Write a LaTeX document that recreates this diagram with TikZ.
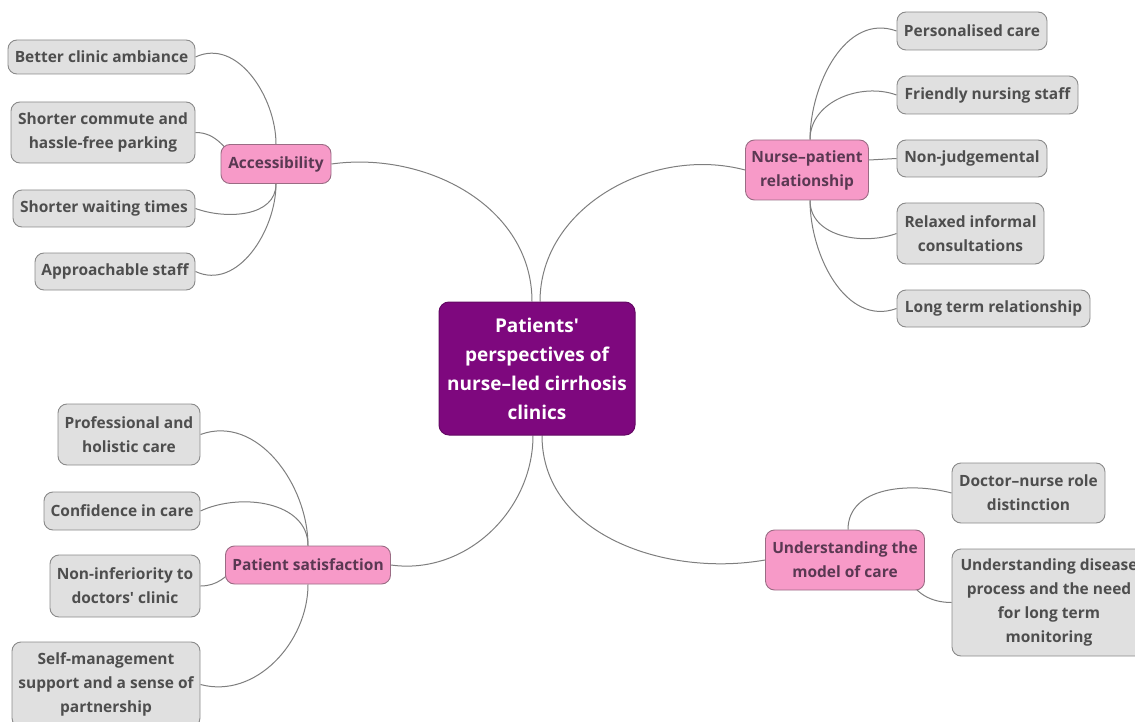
\documentclass[tikz,border=0pt]{standalone}
\usepackage{fontspec}
\setmainfont{Open Sans}
\usetikzlibrary{positioning, backgrounds}

\definecolor{rootfill}{HTML}{7E087E}
\definecolor{rootdraw}{HTML}{640864}
\definecolor{topicfill}{HTML}{F79AC8}
\definecolor{topicdraw}{HTML}{9A6C84}
\definecolor{topictext}{HTML}{5A3852}
\definecolor{leaffill}{HTML}{E0E0E0}
\definecolor{leafdraw}{HTML}{8A8A8A}
\definecolor{leaftext}{HTML}{4E4E4E}
\definecolor{linkgray}{HTML}{7E7E7E}

\begin{document}
\begin{tikzpicture}[
        x=1pt, y=1pt,
        root/.style={rectangle, rounded corners=10pt, draw=rootdraw, fill=rootfill, line width=1pt, text=white, font=\fontsize{19}{29}\selectfont\bfseries, align=center, inner sep=4pt},
        topic/.style={rectangle, rounded corners=9pt, draw=topicdraw, fill=topicfill, line width=0.9pt, text=topictext, font=\fontsize{15.5}{24}\selectfont\bfseries, align=center, inner sep=3pt},
        leaf/.style={rectangle, rounded corners=9pt, draw=leafdraw, fill=leaffill, line width=0.9pt, text=leaftext, font=\fontsize{15.5}{24}\selectfont\bfseries, align=center, inner sep=3pt},
        size/.style 2 args={minimum width=#1, minimum height=#2},
        link/.style={draw=linkgray, line width=1pt}
    ]
        \clip (0,0) rectangle (1135,-722);
        \useasboundingbox (0,0) rectangle (1135,-722);

        % --- CENTRE ---
        \node[root, size={196pt}{133pt}] (centre) at (537,-368.5) {Patients\textquotesingle\\perspectives of\\nurse–led cirrhosis\\clinics};

        % --- MAIN THEMES ---
        \node[topic, size={110pt}{39pt}] (access) at (276,-164) {Accessibility};
        \node[topic, size={123pt}{60pt}] (relation) at (807,-170) {Nurse–patient\\relationship};
        \node[topic, size={165pt}{38pt}] (satisf) at (308,-565) {Patient satisfaction};
        \node[topic, size={159pt}{60pt}] (model) at (845,-560) {Understanding the\\model of care};

        % --- ACCESSIBILITY ---
        \node[leaf, size={187pt}{34pt}] (ambiance) at (101.5,-57) {Better clinic ambiance};
        \node[leaf, size={184pt}{61pt}] (commute) at (103,-132.5) {Shorter commute and\\hassle-free parking};
        \node[leaf, size={182pt}{37pt}] (waiting) at (104,-208.5) {Shorter waiting times};
        \node[leaf, size={160pt}{37pt}] (approach) at (115,-271.5) {Approachable staff};

        % --- NURSE-PATIENT RELATIONSHIP ---
        \node[leaf, size={150pt}{38pt}] (personal) at (972,-31) {Personalised care};
        \node[leaf, size={181pt}{38pt}] (friendly) at (987.5,-95) {Friendly nursing staff};
        \node[leaf, size={150pt}{37pt}] (nonjudge) at (972,-158.5) {Non-judgemental};
        \node[leaf, size={147pt}{61pt}] (relaxed) at (970.5,-233.5) {Relaxed informal\\consultations};
        \node[leaf, size={193pt}{37pt}] (longterm) at (993.5,-308.5) {Long term relationship};

        % --- PATIENT SATISFACTION ---
        \node[leaf, size={142pt}{61pt}] (holistic) at (129,-434.5) {Professional and\\holistic care};
        \node[leaf, size={156pt}{38pt}] (confid) at (122,-511) {Confidence in care};
        \node[leaf, size={150pt}{62pt}] (noninfer) at (125,-586) {Non-inferiority to\\doctors\textquotesingle{} clinic};
        \node[leaf, size={188pt}{85pt}] (selfmgmt) at (106,-684.5) {Self-management\\support and a sense of\\partnership};

        % --- MODEL OF CARE ---
        \node[leaf, size={153pt}{60pt}] (roles) at (1028.5,-493) {Doctor–nurse role\\distinction};
        \node[leaf, size={194pt}{107pt}] (disease) at (1049,-602.5) {Understanding disease\\process and the need\\for long term\\monitoring};

        % --- CONNECTORS ---
        \begin{scope}[on background layer]
            \draw[link] ([xshift=-5pt]centre.north) to[out=90, in=8] (access.east);
            \draw[link] ([xshift=3pt]centre.north) to[out=90, in=165] (relation.west);
            \draw[link] ([xshift=-4pt]centre.south) to[out=-90, in=-8] (satisf.east);
            \draw[link] ([xshift=5pt]centre.south) to[out=-90, in=190] (model.west);

            \draw[link] (ambiance.east) to[out=25, in=90] (access.north);
            \draw[link] (commute.east) to[out=0, in=135] ([xshift=-36pt]access.center);
            \draw[link] (waiting.east) to[out=-20, in=-90] (access.south);
            \draw[link] (approach.east) to[out=-25, in=-90] (access.south);

            \draw[link] ([xshift=3pt]relation.north) to[out=90, in=160] (personal.west);
            \draw[link] ([xshift=3pt]relation.north) to[out=90, in=160] (friendly.west);
            \draw[link] ([yshift=10pt]relation.east) -- (nonjudge.west);
            \draw[link] ([xshift=3pt]relation.south) to[out=-90, in=200] (relaxed.west);
            \draw[link] ([xshift=3pt]relation.south) to[out=-90, in=200] (longterm.west);

            \draw[link] (holistic.east) to[out=20, in=90] (satisf.north);
            \draw[link] (confid.east) to[out=25, in=90] (satisf.north);
            \draw[link] (noninfer.east) to[out=0, in=225] ([xshift=-70pt]satisf.center);
            \draw[link] (selfmgmt.east) to[out=-15, in=-90] (satisf.south);

            \draw[link] ([xshift=3pt]model.north) to[out=90, in=165] (roles.west);
            \draw[link] ([xshift=62pt,yshift=-14pt]model.center) to[out=-70, in=180] (disease.west);
        \end{scope}
    \end{tikzpicture}
\end{document}
